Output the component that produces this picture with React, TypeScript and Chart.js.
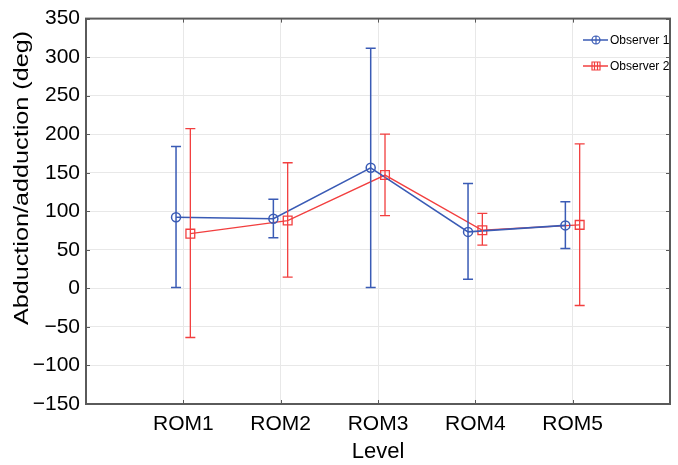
import React, { useEffect, useRef } from 'react';
import { Chart, registerables } from 'chart.js';

Chart.register(...registerables);

const categories = ['ROM1', 'ROM2', 'ROM3', 'ROM4', 'ROM5'];
const obs1Mean = [92.3, 90.4, 156.4, 73.3, 81.7];
const obs1Low = [1.3, 65.6, 1.3, 12, 51.7];
const obs1High = [184.2, 115.7, 311.5, 136, 112.4];
const obs2Mean = [71, 88, 147, 75.4, 82.4];
const obs2Low = [-63.7, 14.5, 94.5, 56.2, -22.2];
const obs2High = [207.3, 163, 200, 97.3, 187.6];
const yTickValues = [-150, -100, -50, 0, 50, 100, 150, 200, 250, 300, 350];
const seriesNames = ['Observer 1', 'Observer 2'];

const BLUE = '#3a5bb5';
const RED = '#f23f3f';
const FONT = '"Liberation Sans", Arial, sans-serif';
const OFF1 = -0.075;
const OFF2 = 0.072;

export default function App() {
  const ref = useRef<HTMLCanvasElement>(null);
  useEffect(() => {
    const canvas = ref.current!;
    const errors = [
      { low: obs1Low, high: obs1High, color: BLUE, off: OFF1, lw: 1.5 },
      { low: obs2Low, high: obs2High, color: RED, off: OFF2, lw: 1.3 },
    ];
    const plugin = {
      id: 'custom',
      afterDatasetsDraw(chart: any) {
        const ctx = chart.ctx;
        const xs = chart.scales.x;
        const ys = chart.scales.y;
        ctx.save();
        errors.forEach((e) => {
          ctx.strokeStyle = e.color;
          ctx.lineWidth = e.lw;
          categories.forEach((_, i) => {
            const x = xs.getPixelForValue(i + 1 + e.off);
            const y1 = ys.getPixelForValue(e.low[i]);
            const y2 = ys.getPixelForValue(e.high[i]);
            ctx.beginPath();
            ctx.moveTo(x, y1);
            ctx.lineTo(x, y2);
            ctx.moveTo(x - 5, y1);
            ctx.lineTo(x + 5, y1);
            ctx.moveTo(x - 5, y2);
            ctx.lineTo(x + 5, y2);
            ctx.stroke();
          });
        });
        ctx.restore();
      },
      afterDraw(chart: any) {
        const ctx = chart.ctx;
        const a = chart.chartArea;
        const xs = chart.scales.x;
        const ys = chart.scales.y;
        ctx.save();
        // border
        ctx.strokeStyle = '#5a5a5a';
        ctx.lineWidth = 2;
        ctx.strokeRect(a.left, a.top, a.right - a.left, a.bottom - a.top);
        // inward ticks
        ctx.lineWidth = 1;
        ctx.strokeStyle = '#5a5a5a';
        ctx.beginPath();
        categories.forEach((_, i) => {
          const x = Math.round(xs.getPixelForValue(i + 1)) + 0.5;
          ctx.moveTo(x, a.bottom);
          ctx.lineTo(x, a.bottom - 4);
          ctx.moveTo(x, a.top);
          ctx.lineTo(x, a.top + 4);
        });
        yTickValues.forEach((v) => {
          const y = Math.round(ys.getPixelForValue(v)) + 0.5;
          ctx.moveTo(a.left, y);
          ctx.lineTo(a.left + 4, y);
          ctx.moveTo(a.right, y);
          ctx.lineTo(a.right - 4, y);
        });
        ctx.stroke();
        // titles
        ctx.fillStyle = '#000';
        ctx.font = `22px ${FONT}`;
        ctx.textAlign = 'center';
        ctx.textBaseline = 'middle';
        ctx.fillText('Level', 378, 452);
        ctx.save();
        ctx.font = `20px ${FONT}`;
        ctx.translate(22, 178);
        ctx.rotate(-Math.PI / 2);
        ctx.scale(1.26, 1);
        ctx.fillText('Abduction/adduction (deg)', 0, 0);
        ctx.restore();
        // legend
        const items = [
          { name: seriesNames[0], color: BLUE, y: 40, kind: 'circle' },
          { name: seriesNames[1], color: RED, y: 66, kind: 'square' },
        ];
        items.forEach((it) => {
          ctx.strokeStyle = it.color;
          ctx.lineWidth = 1.5;
          ctx.beginPath();
          ctx.moveTo(583, it.y);
          ctx.lineTo(608, it.y);
          ctx.stroke();
          ctx.lineWidth = 1.2;
          ctx.beginPath();
          if (it.kind === 'circle') {
            ctx.arc(596, it.y, 4, 0, Math.PI * 2);
            ctx.moveTo(596, it.y - 4);
            ctx.lineTo(596, it.y + 4);
          } else {
            ctx.rect(592, it.y - 4, 8, 8);
            ctx.moveTo(594.5, it.y - 4);
            ctx.lineTo(594.5, it.y + 4);
            ctx.moveTo(597.5, it.y - 4);
            ctx.lineTo(597.5, it.y + 4);
          }
          ctx.stroke();
          ctx.fillStyle = '#000';
          ctx.font = `12px ${FONT}`;
          ctx.textAlign = 'left';
          ctx.textBaseline = 'middle';
          ctx.fillText(it.name, 610, it.y + 1);
        });
        ctx.restore();
      },
    };

    const chart = new Chart(canvas, {
      type: 'line',
      data: {
        datasets: [
          {
            label: seriesNames[0],
            data: obs1Mean.map((v, i) => ({ x: i + 1 + OFF1, y: v })),
            borderColor: BLUE,
            borderWidth: 1.6,
            pointStyle: 'circle',
            pointRadius: 4.5,
            pointBorderWidth: 1.5,
            pointBorderColor: BLUE,
            pointBackgroundColor: 'rgba(0,0,0,0)',
            tension: 0,
          },
          {
            label: seriesNames[1],
            data: obs2Mean.map((v, i) => ({ x: i + 1 + OFF2, y: v })),
            borderColor: RED,
            borderWidth: 1.3,
            pointStyle: 'rect',
            pointRadius: 6.2,
            pointBorderWidth: 1.3,
            pointBorderColor: RED,
            pointBackgroundColor: 'rgba(0,0,0,0)',
            tension: 0,
          },
        ],
      },
      options: {
        animation: false,
        responsive: false,
        maintainAspectRatio: false,
        layout: { padding: { top: 14, right: 6, left: 0, bottom: 0 } },
        plugins: { legend: { display: false }, tooltip: { enabled: false } },
        scales: {
          x: {
            type: 'linear',
            min: 0,
            max: 6,
            afterBuildTicks: (s: any) => {
              s.ticks = [0, 1, 2, 3, 4, 5, 6].map((v) => ({ value: v }));
            },
            afterFit: (s: any) => {
              s.height = 61;
            },
            ticks: {
              callback: (v: any) => categories[Number(v) - 1] ?? '',
              font: { family: FONT, size: 21 },
              color: '#000',
              padding: 8,
              autoSkip: false,
              maxRotation: 0,
            },
            grid: { color: '#e8e8e8', drawTicks: false, lineWidth: 1 },
            border: { display: false },
          },
          y: {
            type: 'linear',
            min: -150,
            max: 350,
            afterBuildTicks: (s: any) => {
              s.ticks = yTickValues.map((v) => ({ value: v }));
            },
            afterFit: (s: any) => {
              s.width = 86;
            },
            ticks: {
              callback: (v: any) => (Number(v) < 0 ? '\u2212' + Math.abs(Number(v)) : String(v)),
              font: { family: FONT, size: 21 },
              color: '#000',
              padding: 6,
            },
            grid: { color: '#e8e8e8', drawTicks: false, lineWidth: 1 },
            border: { display: false },
          },
        },
      },
      plugins: [plugin],
    } as any);
    return () => chart.destroy();
  }, []);
  return (
    <div style={{ position: 'absolute', left: 0, top: 0, width: 678, height: 465, background: '#fff' }}>
      <canvas ref={ref} width={678} height={465} style={{ display: 'block' }} />
    </div>
  );
}
